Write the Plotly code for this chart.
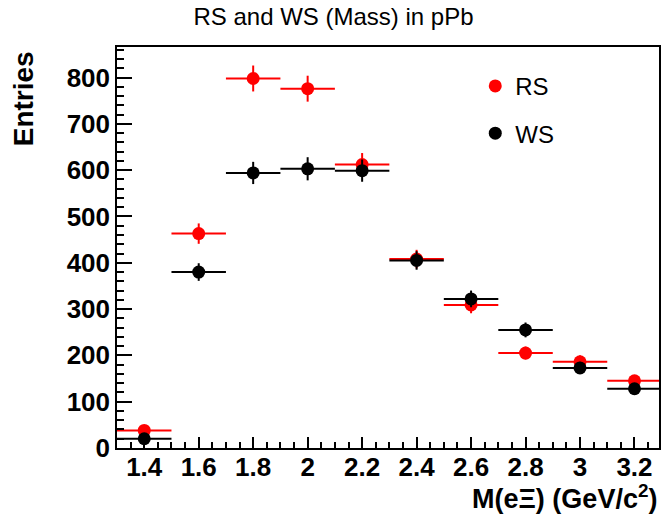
import plotly.graph_objects as go

# Data
mass_bins = [1.4, 1.6, 1.8, 2.0, 2.2, 2.4, 2.6, 2.8, 3.0, 3.2]
bin_half_width = [0.1] * 10
rs_entries = [38, 463, 798, 776, 612, 408, 309, 205, 186, 145]
rs_errors = [6, 22, 28, 28, 25, 20, 18, 14, 14, 12]
ws_entries = [20, 380, 594, 603, 599, 405, 322, 255, 173, 128]
ws_errors = [4, 19, 24, 25, 24, 20, 18, 16, 13, 11]
x_tick_vals = [1.4, 1.6, 1.8, 2.0, 2.2, 2.4, 2.6, 2.8, 3.0, 3.2]
x_tick_text = ["1.4", "1.6", "1.8", "2", "2.2", "2.4", "2.6", "2.8", "3", "3.2"]

FONT = "Liberation Sans"

fig = go.Figure()

def add_series(name, y, yerr, color):
    fig.add_trace(go.Scatter(
        x=mass_bins, y=y, name=name, mode="markers",
        legendgroup=name,
        marker=dict(color=color, size=13, symbol="circle"),
        error_x=dict(type="data", array=bin_half_width, symmetric=True,
                     color=color, thickness=2, width=0),
        error_y=dict(type="data", array=yerr, symmetric=True,
                     color=color, thickness=2, width=0),
        cliponaxis=True,
    ))

add_series("RS", rs_entries, rs_errors, "#ff0000")
add_series("WS", ws_entries, ws_errors, "#000000")

fig.update_layout(
    width=667, height=518,
    margin=dict(l=117, r=6, t=47, b=70),
    paper_bgcolor="white", plot_bgcolor="white",
    showlegend=True,
    title=dict(text="RS and WS (Mass) in pPb", x=0.5, xref="container",
               xanchor="center", y=0.967, yanchor="middle",
               font=dict(family=FONT, size=24, color="black")),
    legend=dict(x=0.661, y=0.958, xanchor="left", yanchor="top",
                bgcolor="rgba(0,0,0,0)", traceorder="grouped",
                tracegroupgap=13,
                font=dict(family=FONT, size=24, color="black")),
    xaxis=dict(range=[1.30, 3.29], tickmode="array", tickvals=x_tick_vals,
               ticktext=x_tick_text, ticks="inside", ticklen=11, tickwidth=1.5,
               tickcolor="black", showgrid=False, zeroline=False,
               showline=True, linecolor="black", linewidth=1.5, mirror=True,
               ticklabelstandoff=-5,
               tickfont=dict(family=FONT, size=26, color="black", weight="bold"),
               minor=dict(dtick=0.05, tick0=1.4, ticks="inside", ticklen=6,
                          tickwidth=1.5, tickcolor="black", showgrid=False)),
    yaxis=dict(range=[0, 866], dtick=100, tick0=0, ticks="inside", ticklen=15,
               tickwidth=1.5, tickcolor="black", showgrid=False, zeroline=False,
               showline=True, linecolor="black", linewidth=1.5, mirror=True,
               tickfont=dict(family=FONT, size=26, color="black", weight="bold"),
               minor=dict(dtick=20, ticks="inside", ticklen=7, tickwidth=1.5,
                          tickcolor="black", showgrid=False)),
    annotations=[
        dict(text="<b>Entries</b>", xref="paper", yref="paper",
             x=-0.172, y=0.995, xanchor="center", yanchor="top", textangle=-90,
             showarrow=False, font=dict(family=FONT, size=28, color="black")),
        dict(text="<b>M(eΞ) (GeV/c<sup>2</sup>)</b>", xref="paper", yref="paper",
             x=1.0, y=-0.122, xanchor="right", yanchor="middle",
             showarrow=False, font=dict(family=FONT, size=27, color="black")),
    ],
)

fig.write_html("out.html")
